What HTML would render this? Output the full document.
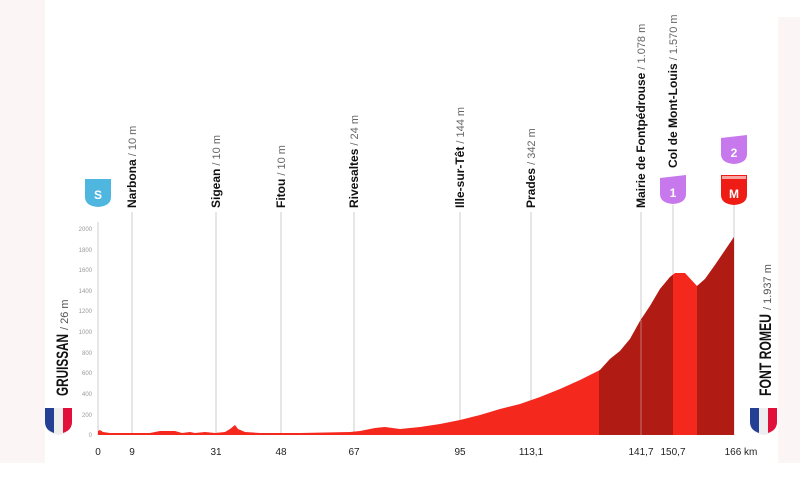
<!DOCTYPE html>
<html><head><meta charset="utf-8"><style>
html,body{margin:0;padding:0;background:#fff;}
svg{display:block;font-family:"Liberation Sans",sans-serif;}
</style></head><body>
<svg width="800" height="484" viewBox="0 0 800 484" xmlns="http://www.w3.org/2000/svg">
<rect x="0" y="0" width="800" height="484" fill="#fff"/>
<rect x="0" y="0" width="45" height="463" fill="#fbf5f6"/>
<rect x="778" y="17" width="22" height="446" fill="#fbf5f6"/>
<g fill="#999" font-size="6" text-anchor="end">
<text x="92" y="231">2000</text><text x="92" y="252">1800</text><text x="92" y="272">1600</text>
<text x="92" y="293">1400</text><text x="92" y="313">1200</text><text x="92" y="334">1000</text>
<text x="92" y="355">800</text><text x="92" y="375">600</text><text x="92" y="396">400</text>
<text x="92" y="417">200</text><text x="92" y="437">0</text>
</g>
<line x1="98" y1="222" x2="98" y2="435" stroke="#ccc" stroke-width="1"/>
<g stroke="#ccc" stroke-width="1">
<line x1="132" y1="212" x2="132" y2="435"/><line x1="216" y1="212" x2="216" y2="435"/>
<line x1="281" y1="212" x2="281" y2="435"/><line x1="354" y1="212" x2="354" y2="435"/>
<line x1="460" y1="212" x2="460" y2="435"/><line x1="531" y1="212" x2="531" y2="435"/>
<line x1="641" y1="212" x2="641" y2="435"/><line x1="673" y1="205" x2="673" y2="435"/>
<line x1="734" y1="205" x2="734" y2="435"/>
</g>
<defs><clipPath id="prof"><path d="M98,431 L100,430 L103,432 L110,433 L150,433 L160,431 L175,431 L182,433 L190,432 L195,433 L205,432 L215,433 L225,432 L230,429 L235,425 L238,429 L245,432 L260,433 L300,433 L350,432 L360,431 L375,428 L385,427 L400,429 L420,427 L440,424 L460,420 L480,415 L500,409 L520,404 L540,397 L560,389 L580,380 L600,370 L610,359 L620,351 L630,339 L640,321 L650,306 L660,289 L670,277 L675,273 L685,273 L697,286 L705,279 L715,265 L734,237 L734,435 L98,435 Z"/></clipPath></defs>
<g clip-path="url(#prof)">
<rect x="98" y="200" width="636" height="235" fill="#f5281e"/>
<rect x="599" y="200" width="74" height="235" fill="#b01c14"/>
<rect x="697" y="200" width="37" height="235" fill="#b01c14"/>
</g>
<g stroke="#ccc" stroke-width="1" opacity="0.5"><line x1="641" y1="320" x2="641" y2="435"/></g>
<g font-size="12" fill="#111">
<text transform="translate(136,208) rotate(-90)"><tspan font-weight="bold">Narbona</tspan><tspan fill="#666" font-size="11"> / 10 m</tspan></text>
<text transform="translate(220,208) rotate(-90)"><tspan font-weight="bold">Sigean</tspan><tspan fill="#666" font-size="11"> / 10 m</tspan></text>
<text transform="translate(285,208) rotate(-90)"><tspan font-weight="bold">Fitou</tspan><tspan fill="#666" font-size="11"> / 10 m</tspan></text>
<text transform="translate(358,208) rotate(-90)"><tspan font-weight="bold">Rivesaltes</tspan><tspan fill="#666" font-size="11"> / 24 m</tspan></text>
<text transform="translate(464,208) rotate(-90)"><tspan font-weight="bold">Ille-sur-Têt</tspan><tspan fill="#666" font-size="11"> / 144 m</tspan></text>
<text transform="translate(535,208) rotate(-90)"><tspan font-weight="bold">Prades</tspan><tspan fill="#666" font-size="11"> / 342 m</tspan></text>
<text transform="translate(645,208) rotate(-90)"><tspan font-weight="bold">Mairie de Fontpédrouse</tspan><tspan fill="#666" font-size="11"> / 1.078 m</tspan></text>
<text transform="translate(677,168) rotate(-90)"><tspan font-weight="bold">Col de Mont-Louis</tspan><tspan fill="#666" font-size="11"> / 1.570 m</tspan></text>
</g>
<g>
<path d="M85,179 L111,179 L111,197 Q111,206 98,207 Q85,206 85,197 Z" fill="#4fb6e0"/>
<text x="98" y="199" font-size="12" font-weight="bold" fill="#fff" text-anchor="middle">S</text>
<path d="M660,178 L686,175 L686,194 Q686,203 673,204 Q660,203 660,194 Z" fill="#c678ec"/>
<text x="673" y="197" font-size="12" font-weight="bold" fill="#fff" text-anchor="middle">1</text>
<path d="M721,138 L747,135 L747,154 Q747,163 734,164 Q721,163 721,154 Z" fill="#c678ec"/>
<text x="734" y="157" font-size="12" font-weight="bold" fill="#fff" text-anchor="middle">2</text>
<path d="M721,175 L747,175 L747,195 Q747,204 734,205 Q721,204 721,195 Z" fill="#ee1c14"/>
<rect x="722" y="176" width="24" height="3" fill="#fff" opacity="0.6"/>
<text x="734" y="198" font-size="12" font-weight="bold" fill="#fff" text-anchor="middle">M</text>
</g>
<text transform="translate(68,396) rotate(-90)" font-size="17" font-weight="bold" fill="#111" textLength="62" lengthAdjust="spacingAndGlyphs">GRUISSAN</text>
<text transform="translate(68,330) rotate(-90)" font-size="11" fill="#555">/ 26 m</text>
<text transform="translate(771,396) rotate(-90)" font-size="17" font-weight="bold" fill="#111" textLength="82" lengthAdjust="spacingAndGlyphs">FONT ROMEU</text>
<text transform="translate(771,310) rotate(-90)" font-size="11" fill="#555">/ 1.937 m</text>
<g>
<path d="M45,408 L72,408 L72,422 Q72,433 58.5,435 Q45,433 45,422 Z" fill="#eee"/>
<path d="M45,408 L54,408 L54,433 Q45,430 45,422 Z" fill="#243f93"/>
<path d="M63,408 L72,408 L72,422 Q72,430 63,433 Z" fill="#e0103a"/>
<path d="M750,408 L777,408 L777,422 Q777,433 763.5,435 Q750,433 750,422 Z" fill="#eee"/>
<path d="M750,408 L759,408 L759,433 Q750,430 750,422 Z" fill="#243f93"/>
<path d="M768,408 L777,408 L777,422 Q777,430 768,433 Z" fill="#e0103a"/>
</g>
<g font-size="10" fill="#222" text-anchor="middle">
<text x="98" y="455">0</text><text x="132" y="455">9</text><text x="216" y="455">31</text>
<text x="281" y="455">48</text><text x="354" y="455">67</text><text x="460" y="455">95</text>
<text x="531" y="455">113,1</text><text x="641" y="455">141,7</text><text x="673" y="455">150,7</text>
<text x="741" y="455">166 km</text>
</g>
</svg>
</body></html>
